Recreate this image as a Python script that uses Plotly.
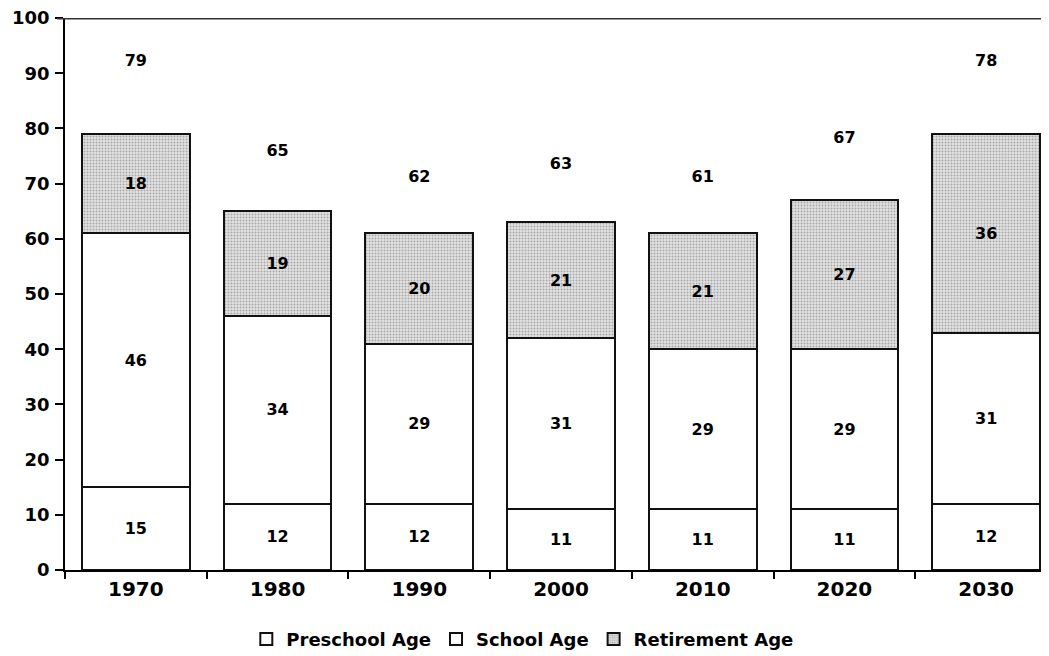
import plotly.graph_objects as go

years = ["1970", "1980", "1990", "2000", "2010", "2020", "2030"]
preschool = [15, 12, 12, 11, 11, 11, 12]
school = [46, 34, 29, 31, 29, 29, 31]
retirement = [18, 19, 20, 21, 21, 27, 36]
totals = [79, 65, 62, 63, 61, 67, 78]
y_ticks = [0, 10, 20, 30, 40, 50, 60, 70, 80, 90, 100]

FONT = "DejaVu Sans"
line = dict(color="#111111", width=2)
lab_font = dict(family=FONT, size=16, color="black", weight="bold")

fig = go.Figure()
fig.add_trace(go.Bar(
    x=years, y=preschool, name="Preschool Age",
    marker=dict(color="white", line=line),
    text=preschool, textposition="inside", insidetextanchor="middle", textangle=0,
    textfont=lab_font,
))
fig.add_trace(go.Bar(
    x=years, y=school, name="School Age",
    marker=dict(color="white", line=line),
    text=school, textposition="inside", insidetextanchor="middle", textangle=0,
    textfont=lab_font,
))
fig.add_trace(go.Bar(
    x=years, y=retirement, name="Retirement Age",
    marker=dict(color="#e2e2e2", line=line,
                pattern=dict(shape=".", fgcolor="#707070", bgcolor="#e2e2e2",
                             size=3, solidity=0.35)),
    text=retirement, textposition="inside", insidetextanchor="middle", textangle=0,
    textfont=lab_font,
))

tops = [a + b + c for a, b, c in zip(preschool, school, retirement)]
fig.add_trace(go.Scatter(
    x=years, y=[t * 1.165 for t in tops], mode="text", text=totals,
    textfont=lab_font, showlegend=False, hoverinfo="skip",
))

fig.add_shape(type="line", xref="paper", yref="y", x0=-0.008, x1=1, y0=100, y1=100,
              line=dict(color="#333333", width=3), layer="above")

fig.update_layout(
    width=1049, height=656,
    barmode="stack", bargap=0.24,
    paper_bgcolor="white", plot_bgcolor="white",
    margin=dict(l=57, r=0, t=10, b=94, autoexpand=False),
    font=dict(family=FONT, color="black"),
    legend=dict(orientation="h", x=0.461, xanchor="center", y=-0.092, yanchor="top",
                font=dict(family=FONT, size=18, color="black", weight="bold"),
                itemwidth=30, traceorder="normal", tracegroupgap=0,
                itemsizing="constant"),
    showlegend=True,
)
fig.update_xaxes(
    range=[-0.5, 6.5], showline=True, linecolor="black", linewidth=1.5,
    ticks="outside", tickson="boundaries", ticklen=7, tickcolor="black", tickwidth=1.5,
    tickfont=dict(family=FONT, size=20, color="black", weight="bold"),
    showgrid=False, zeroline=False, automargin=False, ticklabeloverflow="allow",
)
fig.update_yaxes(
    range=[0, 100], tickvals=y_ticks, showline=True, linecolor="black", linewidth=1.5,
    ticks="outside", ticklen=8, tickcolor="black", tickwidth=1.5,
    tickfont=dict(family=FONT, size=18, color="black", weight="bold"),
    showgrid=False, zeroline=False, ticklabelstandoff=2, automargin=False,
    ticklabeloverflow="allow",
)

fig.write_html("out.html")
